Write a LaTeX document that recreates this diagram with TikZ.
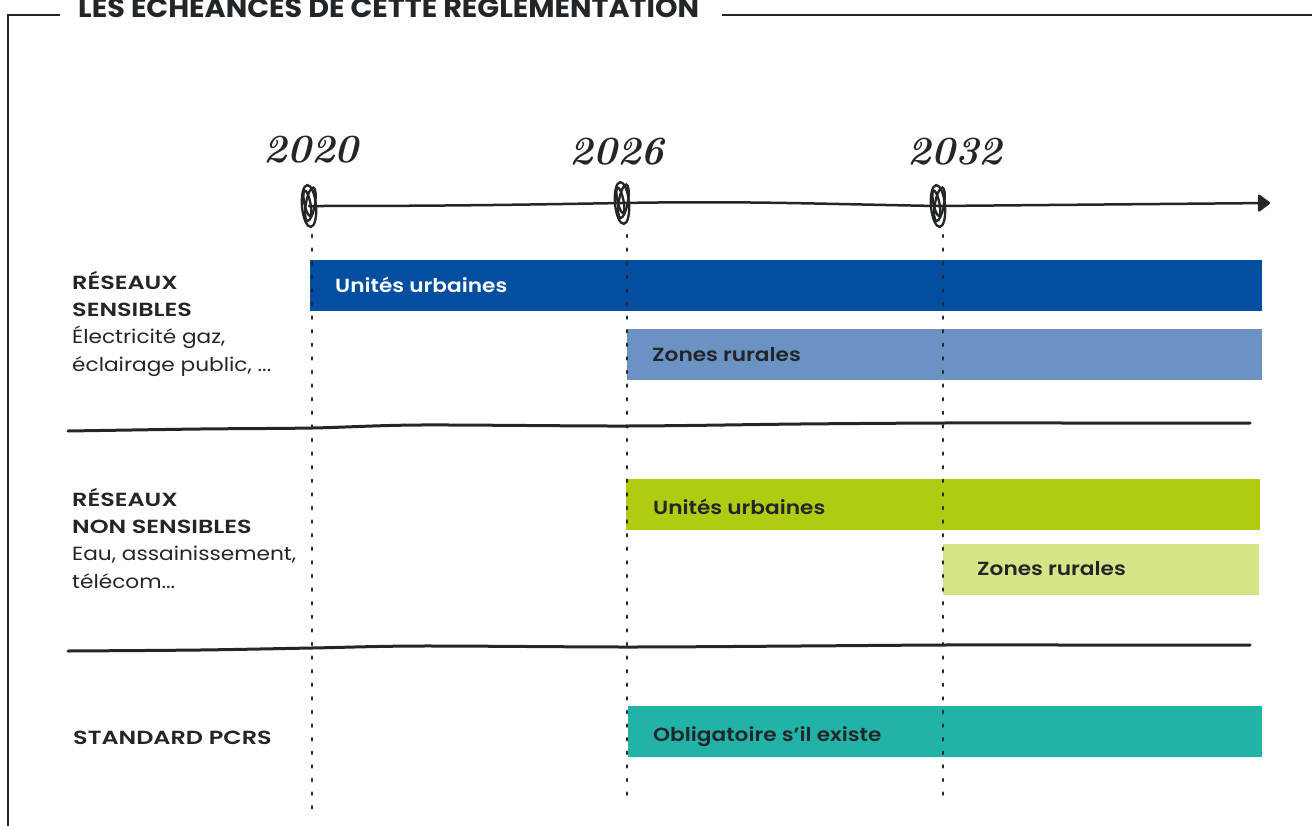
\documentclass[tikz,border=0pt]{standalone}
\usepackage{fontspec}
\newfontfamily\texte[FakeStretch=1.14, BoldFont={Poppins SemiBold}]{Poppins}
\newfontfamily\capitales[FakeStretch=1.26, BoldFont={Poppins SemiBold}]{Poppins}
\newfontfamily\titrefont[FakeStretch=1.06]{Poppins}
\newcommand{\rubrique}[1]{{\capitales\bfseries #1}}
\usetikzlibrary{arrows.meta}
\definecolor{encre}{HTML}{232629}
\definecolor{bleu}{HTML}{034EA0}
\definecolor{bleuclair}{HTML}{6A93C4}
\definecolor{vert}{HTML}{B0CB12}
\definecolor{vertclair}{HTML}{D7E387}
\definecolor{turquoise}{HTML}{21B3A8}
\tikzset{
  cadre/.style={draw=encre, line width=2.5},
  trait/.style={draw=encre, line width=3, line cap=round},
  pointille/.style={draw=encre, line width=2.8, line cap=round, dash pattern=on 2pt off 11.6pt},
  annee/.style={inner sep=0, text=encre, font=\fontsize{40}{40}\selectfont\bfseries\itshape},
  repere/.style={draw=encre, line width=2.3},
  etiquette/.style={anchor=base west, inner sep=0, font=\texte\bfseries\fontsize{19}{19}\selectfont},
  categorie/.style={anchor=north west, inner sep=0, align=left, text=encre, font=\texte\fontsize{19}{27.3}\selectfont},
}
\begin{document}
\begin{tikzpicture}[x=1pt,y=-1pt]
\useasboundingbox (0,0) rectangle (1312,825);
\fill[white] (0,0) rectangle (1312,825);

\node[anchor=base west, inner sep=0, text=encre, font=\titrefont\bfseries\fontsize{27}{27}\selectfont] (titre) at (78,17) {LES ECHEANCES DE CETTE REGLEMENTATION};
\draw[cadre] (60,15) -- (8,15) -- (8,830);
\draw[cadre] (722,15) -- (1315,15);

\foreach \ya/\xa/\xb/\xt/\yt/\coul/\ecrit/\txt [count=\i] in {260/310/1262/335/292/bleu/white/Unités urbaines, 329/627/1262/652/361/bleuclair/encre/Zones rurales, 479/626/1260/653/514/vert/encre/Unités urbaines, 544/943/1259/977/575/vertclair/encre/Zones rurales, 706/628/1262/653/741/turquoise/encre/Obligatoire s’il existe}{
  \fill[\coul] (\xa,\ya) rectangle (\xb,\ya+51);
  \node[etiquette, text=\ecrit] (barre\i) at (\xt,\yt) {\txt};
}

\foreach \x/\yb in {312/810, 627/800, 943/800}
  \draw[pointille] (\x,235) -- (\x,\yb);

\draw[trait] plot[smooth] coordinates {(68,431) (200,429) (312,428) (420,425) (627,426) (800,424) (943,423) (1080,423) (1250,423)};
\draw[trait] plot[smooth] coordinates {(68,651) (200,650) (312,648) (420,646) (627,647) (800,646) (943,645) (1080,645) (1250,645)};

\coordinate (t0) at (309,206);
\coordinate (t1) at (622,203);
\coordinate (t2) at (938,206);
\coordinate (fin) at (1270,203);
\draw[trait, line width=2.5, -{Triangle[length=13pt,width=19pt,round]}] (t0) to[out=0,in=181] (t1) to[out=1,in=179] (t2) -- (fin);
\foreach \n in {t0,t1,t2}{
  \draw[repere, rotate around={5:(\n)}] (\n) ellipse [x radius=7, y radius=21];
  \draw[repere, rotate around={-10:(\n)}] ([xshift=1,yshift=2]\n) ellipse [x radius=4.5, y radius=17];
  \draw[repere, rotate around={12:(\n)}] ([xshift=-1,yshift=3]\n) ellipse [x radius=3, y radius=13];
}

\node[annee] (a0) at (311,150) {2020};
\node[annee] (a1) at (617,152) {2026};
\node[annee] (a2) at (955,152) {2032};

\node[categorie] (sensibles) at (72,271) {\rubrique{RÉSEAUX}\\\rubrique{SENSIBLES}\\Électricité gaz,\\éclairage public, ...};
\node[categorie] (nonsensibles) at (72,488) {\rubrique{RÉSEAUX}\\\rubrique{NON SENSIBLES}\\Eau, assainissement,\\télécom...};
\node[anchor=base west, inner sep=0, text=encre, font=\fontsize{19}{19}\selectfont] (pcrs) at (73,744) {\rubrique{STANDARD PCRS}};
\end{tikzpicture}
\end{document}
